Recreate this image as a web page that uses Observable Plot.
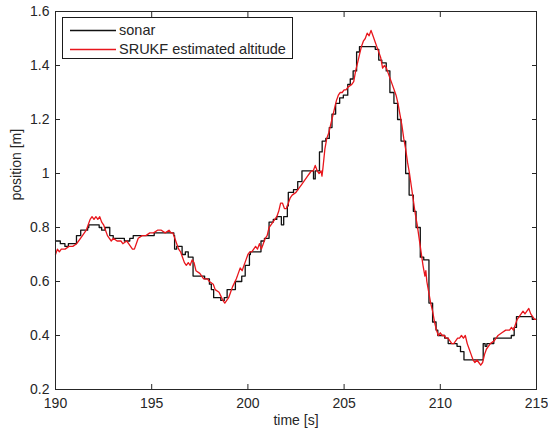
<!DOCTYPE html>
<html><head><meta charset="utf-8">
<script src="https://cdn.jsdelivr.net/npm/d3@7"></script>
<script src="https://cdn.jsdelivr.net/npm/@observablehq/plot@0.6"></script>
<style>
body{margin:0;background:#fff;}
#chart{position:relative;width:548px;height:428px;font-family:"Liberation Sans",Arial,sans-serif;}
#legend{position:absolute;left:62px;top:17px;width:231px;height:42px;border:1px solid #1a1a1a;background:#fff;font-size:14.5px;color:#262626;box-sizing:border-box;}
.item{position:absolute;left:0;height:18px;line-height:18px;white-space:nowrap;}
.item svg{position:absolute;left:7px;top:8px;}
.item span{position:absolute;left:56px;top:0;}
</style></head><body><div id="chart"><div id="legend"></div></div>
<script>
const sonarTime = [190.00,190.25,190.49,190.67,191.09,191.31,191.67,191.73,192.27,192.40,192.58,192.82,193.00,193.58,193.86,194.04,195.13,196.15,196.19,196.30,196.58,196.75,196.90,197.15,197.75,198.00,198.10,198.22,198.59,198.77,198.92,199.35,199.68,199.86,200.08,200.13,200.68,200.86,201.10,201.32,201.50,201.74,201.86,202.05,202.10,202.37,202.59,202.81,203.41,203.50,203.72,203.86,204.05,204.23,204.37,204.56,204.77,204.96,205.19,205.32,205.47,205.65,205.80,206.62,206.80,206.96,207.19,207.38,207.59,207.78,207.96,208.20,208.38,208.60,208.74,208.96,209.14,209.41,209.60,209.78,209.87,210.23,210.41,210.87,211.05,211.23,212.23,212.33,212.42,212.78,213.69,213.84,213.96,214.78,215.00];
const sonarPos = [0.75,0.74,0.73,0.74,0.77,0.79,0.80,0.81,0.80,0.79,0.80,0.77,0.76,0.75,0.76,0.77,0.78,0.77,0.72,0.73,0.70,0.71,0.69,0.62,0.61,0.59,0.57,0.54,0.53,0.54,0.57,0.60,0.62,0.66,0.70,0.71,0.75,0.76,0.82,0.83,0.84,0.81,0.84,0.88,0.93,0.94,0.97,1.01,0.98,1.01,1.08,1.12,1.13,1.17,1.22,1.26,1.28,1.29,1.33,1.35,1.38,1.45,1.47,1.46,1.42,1.41,1.38,1.30,1.26,1.20,1.12,1.00,0.92,0.86,0.80,0.69,0.68,0.52,0.45,0.42,0.40,0.39,0.37,0.36,0.34,0.31,0.37,0.36,0.37,0.39,0.40,0.43,0.47,0.46,0.46];
const ukfTime = [190.0,190.1,190.2,190.3,190.5,190.7,190.9,191.1,191.2,191.4,191.5,191.6,191.7,191.8,191.9,192.0,192.1,192.2,192.3,192.4,192.5,192.6,192.7,192.8,192.9,193.0,193.2,193.4,193.5,193.7,193.8,193.9,194.0,194.1,194.2,194.3,194.5,194.7,194.9,195.1,195.3,195.5,195.7,195.9,196.0,196.1,196.2,196.3,196.4,196.5,196.6,196.7,196.8,196.9,197.0,197.1,197.2,197.3,197.5,197.7,197.9,198.0,198.2,198.3,198.5,198.7,198.8,198.9,199.0,199.1,199.2,199.4,199.5,199.6,199.7,199.8,199.9,200.0,200.1,200.2,200.4,200.5,200.6,200.7,200.8,200.9,201.0,201.1,201.2,201.3,201.4,201.5,201.6,201.7,201.8,201.9,202.0,202.1,202.2,202.3,202.5,202.6,202.8,202.9,203.0,203.1,203.2,203.3,203.4,203.5,203.6,203.7,203.8,203.85,203.9,204.0,204.1,204.2,204.3,204.4,204.5,204.6,204.7,204.8,204.9,205.0,205.1,205.2,205.4,205.5,205.6,205.7,205.8,205.9,206.0,206.1,206.2,206.3,206.4,206.5,206.6,206.7,206.8,206.9,207.0,207.1,207.2,207.3,207.4,207.5,207.6,207.7,207.8,207.9,208.0,208.1,208.2,208.3,208.4,208.5,208.6,208.7,208.8,208.9,209.0,209.1,209.2,209.25,209.3,209.4,209.5,209.6,209.7,209.8,209.9,210.0,210.1,210.2,210.3,210.4,210.5,210.6,210.7,210.8,210.9,211.0,211.1,211.2,211.3,211.4,211.5,211.6,211.7,211.8,211.9,212.0,212.1,212.2,212.3,212.4,212.5,212.6,212.8,212.9,213.0,213.2,213.4,213.6,213.7,213.8,213.9,214.0,214.1,214.2,214.3,214.4,214.5,214.6,214.7,214.8,214.9,215.0];
const ukfPos = [0.70,0.72,0.71,0.72,0.72,0.73,0.73,0.74,0.75,0.77,0.78,0.79,0.81,0.83,0.84,0.83,0.84,0.83,0.84,0.82,0.81,0.79,0.77,0.76,0.75,0.76,0.75,0.75,0.74,0.75,0.74,0.73,0.72,0.72,0.74,0.76,0.77,0.77,0.78,0.78,0.79,0.79,0.78,0.79,0.78,0.78,0.76,0.74,0.72,0.71,0.69,0.67,0.66,0.67,0.66,0.68,0.67,0.64,0.63,0.61,0.61,0.60,0.59,0.57,0.56,0.53,0.52,0.53,0.54,0.56,0.58,0.61,0.63,0.65,0.64,0.66,0.68,0.70,0.71,0.71,0.73,0.72,0.74,0.72,0.74,0.76,0.77,0.80,0.81,0.82,0.83,0.84,0.86,0.89,0.89,0.87,0.87,0.89,0.91,0.92,0.93,0.94,0.96,0.97,0.98,0.99,1.00,1.01,1.01,1.03,1.01,1.00,1.01,0.99,1.02,1.09,1.13,1.15,1.18,1.21,1.24,1.27,1.29,1.30,1.30,1.31,1.31,1.32,1.33,1.34,1.38,1.41,1.44,1.47,1.49,1.50,1.52,1.51,1.53,1.51,1.49,1.47,1.45,1.43,1.39,1.40,1.39,1.37,1.35,1.33,1.31,1.29,1.26,1.22,1.18,1.13,1.09,1.04,1.00,0.95,0.90,0.85,0.81,0.76,0.71,0.66,0.62,0.64,0.60,0.56,0.52,0.49,0.45,0.42,0.40,0.41,0.40,0.40,0.39,0.39,0.38,0.37,0.37,0.38,0.39,0.39,0.40,0.39,0.40,0.37,0.35,0.33,0.31,0.30,0.31,0.30,0.29,0.30,0.33,0.35,0.36,0.37,0.38,0.39,0.40,0.41,0.42,0.42,0.43,0.42,0.44,0.46,0.47,0.48,0.49,0.48,0.49,0.50,0.48,0.47,0.46,0.46];
const xTicks = [190,195,200,205,210,215];
const yTicks = [0.2,0.4,0.6,0.8,1.0,1.2,1.4,1.6];
const seriesNames = ["sonar","SRUKF estimated altitude"];
const seriesColors = ["#111111","#e8161c"];
const xLabel = "time [s]";
const yLabel = "position [m]";

const sonar = sonarTime.map((t,i)=>({t, v:sonarPos[i]}));
const ukf = ukfTime.map((t,i)=>({t, v:ukfPos[i]}));
const fmtY = d => String(+(+d).toFixed(1));
const blank = () => "";
const axisColor = "#262626";

const chart = Plot.plot({
  width:548, height:428,
  marginLeft:55, marginRight:12, marginTop:11, marginBottom:39,
  x:{domain:[190,215]},
  y:{domain:[0.2,1.6]},
  style:{fontFamily:'"Liberation Sans", Arial, sans-serif', fontSize:"14px", color:axisColor, background:"#fff"},
  marks:[
    Plot.line(sonar, {x:"t", y:"v", curve:"step-after", stroke:seriesColors[0], strokeWidth:1.3}),
    Plot.line(ukf, {x:"t", y:"v", stroke:seriesColors[1], strokeWidth:1.3}),
    Plot.frame({stroke:axisColor}),
    Plot.axisX({ticks:xTicks, tickSize:0, tickPadding:9, label:null}),
    Plot.axisX({ticks:xTicks, tickSize:-5, tickFormat:blank, label:null}),
    Plot.axisX({anchor:"top", ticks:xTicks, tickSize:-5, tickFormat:blank, label:null}),
    Plot.axisY({ticks:yTicks, tickSize:0, tickPadding:6, tickFormat:fmtY, label:null}),
    Plot.axisY({ticks:yTicks, tickSize:-5, tickFormat:blank, label:null}),
    Plot.axisY({anchor:"right", ticks:yTicks, tickSize:-5, tickFormat:blank, label:null}),
    Plot.text([xLabel], {frameAnchor:"bottom", lineAnchor:"bottom", dy:35, fill:axisColor}),
    Plot.text([yLabel], {frameAnchor:"left", rotate:-90, dx:-39, fill:axisColor})
  ]
});
const holder = document.getElementById("chart");
holder.insertBefore(chart, holder.firstChild);

const legend = document.getElementById("legend");
seriesNames.forEach((name,i)=>{
  const it = document.createElement("div");
  it.className = "item";
  it.style.top = (3 + i*18.5) + "px";
  it.style.width = "100%";
  it.innerHTML = `<svg width="46" height="3"><line x1="0" y1="1.5" x2="46" y2="1.5" stroke="${seriesColors[i]}" stroke-width="1.3"/></svg><span>${name}</span>`;
  legend.appendChild(it);
});
</script>
</body></html>
